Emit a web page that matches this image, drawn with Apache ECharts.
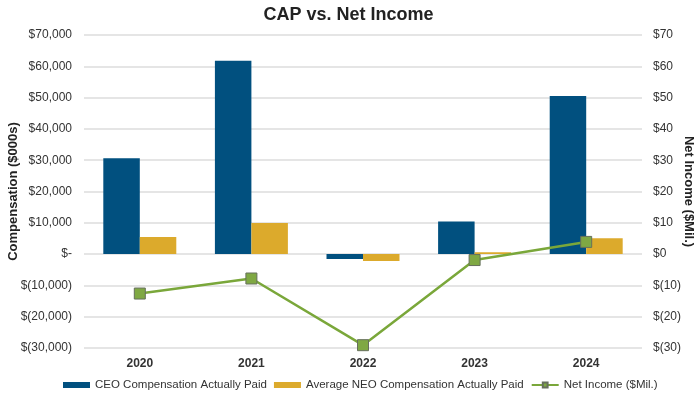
<!DOCTYPE html>
<html><head><meta charset="utf-8">
<script src="https://cdn.jsdelivr.net/npm/echarts@6/dist/echarts.min.js"></script>
<style>html,body{margin:0;padding:0;background:#fff}#c{width:697px;height:394px}</style>
</head><body><div id="c"></div>
<script>
var categories = ['2020','2021','2022','2023','2024'];
var ceoCap = [30600, 61800, -1600, 10450, 50500];
var neoCap = [5500, 9900, -2200, 600, 5100];
var netIncome = [-12.6, -7.8, -29.1, -1.9, 3.9];

function fmtLeft(v){
  if (v === 0) return '$-';
  var s = Math.abs(v).toLocaleString('en-US');
  return v < 0 ? '$(' + s + ')' : '$' + s;
}
function fmtRight(v){
  if (v === 0) return '$0';
  return v < 0 ? '$(' + Math.abs(v) + ')' : '$' + v;
}
var font = 'Liberation Sans, Arial, sans-serif';
var chart = echarts.init(document.getElementById('c'), null, {renderer:'canvas'});
chart.setOption({
  animation:false,
  textStyle:{fontFamily:font},
  title:{text:'CAP vs. Net Income', left:'center', top:1,
    textStyle:{fontFamily:font, fontSize:18, fontWeight:'bold', color:'#222'}},
  grid:{left:84, right:55, top:35, bottom:46, containLabel:false, outerBoundsMode:'none'},
  legend:{top:374, left:58, itemWidth:27, itemHeight:6, itemGap:7,
    textStyle:{fontFamily:font, fontSize:11.5, color:'#333'},
    data:[{name:'CEO Compensation Actually Paid', icon:'rect'},
          {name:'Average NEO Compensation Actually Paid', icon:'rect'},
          {name:'Net Income ($Mil.)'}]},
  xAxis:{type:'category', data:categories,
    axisLine:{show:false, onZero:false}, axisTick:{show:false},
    axisLabel:{fontFamily:font, fontSize:12, fontWeight:'bold', color:'#333', margin:10}},
  yAxis:[
    {type:'value', min:-30000, max:70000, interval:10000,
     name:'Compensation ($000s)', nameLocation:'middle', nameGap:64, nameMoveOverlap:false,
     nameTextStyle:{fontFamily:font, fontSize:13, fontWeight:'bold', color:'#222'},
     axisLine:{show:false}, axisTick:{show:false},
     axisLabel:{formatter:fmtLeft, fontFamily:font, fontSize:12, color:'#333', margin:12},
     splitLine:{lineStyle:{color:'#dcdcdc', width:1.5}}},
    {type:'value', min:-30, max:70, interval:10, position:'right',
     name:'Net Income ($Mil.)', nameLocation:'middle', nameGap:40, nameRotate:-90, nameMoveOverlap:false,
     nameTextStyle:{fontFamily:font, fontSize:13, fontWeight:'bold', color:'#222'},
     axisLine:{show:false}, axisTick:{show:false},
     axisLabel:{formatter:fmtRight, fontFamily:font, fontSize:12, color:'#333', margin:11},
     splitLine:{show:false}}
  ],
  series:[
    {name:'CEO Compensation Actually Paid', type:'bar', data:ceoCap, yAxisIndex:0,
     barGap:'0%', barCategoryGap:'34.6%', itemStyle:{color:'#01507f'}},
    {name:'Average NEO Compensation Actually Paid', type:'bar', data:neoCap, yAxisIndex:0,
     barGap:'0%', barCategoryGap:'34.6%', itemStyle:{color:'#dcaa2c'}},
    {name:'Net Income ($Mil.)', type:'line', data:netIncome, yAxisIndex:1,
     symbol:'rect', symbolSize:11, z:5,
     lineStyle:{color:'#7aa73a', width:2.5},
     itemStyle:{color:'#7fa843', borderColor:'#66705c', borderWidth:1}}
  ]
});
</script></body></html>
